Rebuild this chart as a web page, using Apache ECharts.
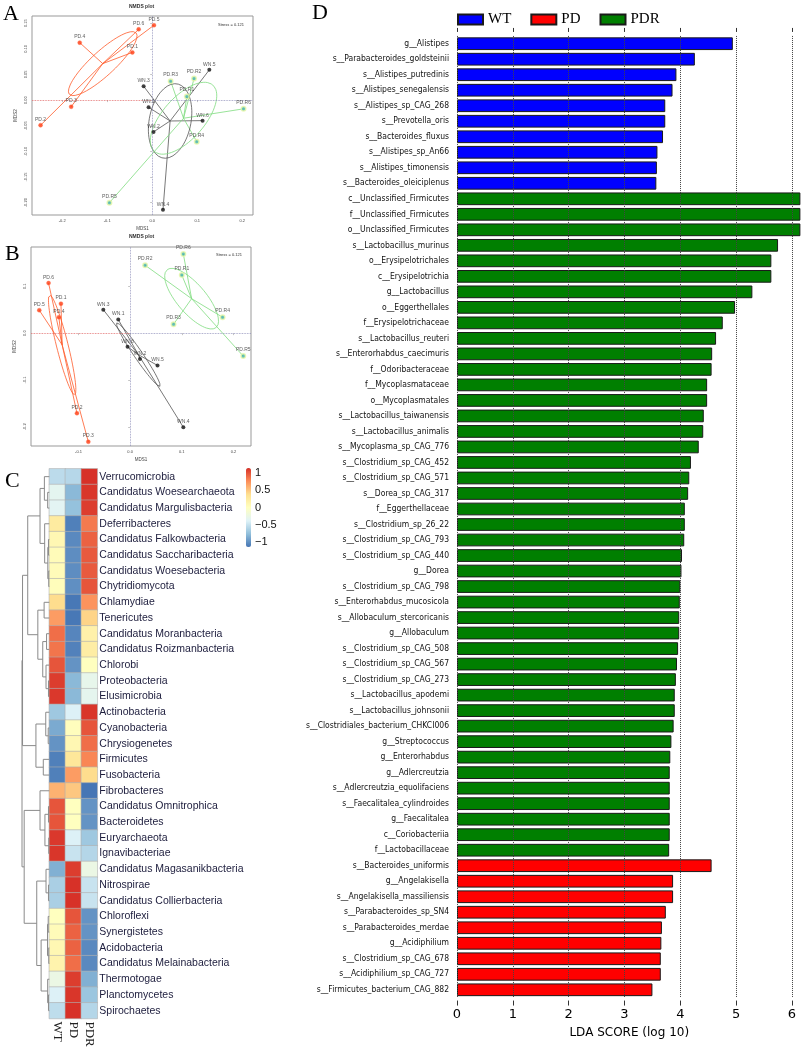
<!DOCTYPE html>
<html><head><meta charset="utf-8">
<script src="https://cdn.jsdelivr.net/npm/echarts@6/dist/echarts.min.js"></script>
<style>html,body{margin:0;padding:0;background:#fff}#c{width:803px;height:1048px}</style>
</head><body><div id="c"></div>
<script>
// ================= DATA =================
// Panel D : LEfSe LDA scores
const wtNames = ['g__Alistipes','s__Parabacteroides_goldsteinii','s__Alistipes_putredinis','s__Alistipes_senegalensis','s__Alistipes_sp_CAG_268','s__Prevotella_oris','s__Bacteroides_fluxus','s__Alistipes_sp_An66','s__Alistipes_timonensis','s__Bacteroides_oleiciplenus'];
const wtLDA = [4.94,4.26,3.93,3.86,3.73,3.73,3.69,3.59,3.58,3.57];
const pdrNames = ['c__Unclassified_Firmicutes','f__Unclassified_Firmicutes','o__Unclassified_Firmicutes','s__Lactobacillus_murinus','o__Erysipelotrichales','c__Erysipelotrichia','g__Lactobacillus','o__Eggerthellales','f__Erysipelotrichaceae','s__Lactobacillus_reuteri','s__Enterorhabdus_caecimuris','f__Odoribacteraceae','f__Mycoplasmataceae','o__Mycoplasmatales','s__Lactobacillus_taiwanensis','s__Lactobacillus_animalis','s__Mycoplasma_sp_CAG_776','s__Clostridium_sp_CAG_452','s__Clostridium_sp_CAG_571','s__Dorea_sp_CAG_317','f__Eggerthellaceae','s__Clostridium_sp_26_22','s__Clostridium_sp_CAG_793','s__Clostridium_sp_CAG_440','g__Dorea','s__Clostridium_sp_CAG_798','s__Enterorhabdus_mucosicola','s__Allobaculum_stercoricanis','g__Allobaculum','s__Clostridium_sp_CAG_508','s__Clostridium_sp_CAG_567','s__Clostridium_sp_CAG_273','s__Lactobacillus_apodemi','s__Lactobacillus_johnsonii','s__Clostridiales_bacterium_CHKCI006','g__Streptococcus','g__Enterorhabdus','g__Adlercreutzia','s__Adlercreutzia_equolifaciens','s__Faecalitalea_cylindroides','g__Faecalitalea','c__Coriobacteriia','f__Lactobacillaceae'];
const pdrLDA = [6.15,6.15,6.15,5.75,5.63,5.63,5.29,4.98,4.76,4.64,4.57,4.56,4.48,4.48,4.42,4.41,4.33,4.19,4.16,4.14,4.08,4.08,4.07,4.03,4.02,4.00,3.99,3.98,3.98,3.96,3.94,3.92,3.90,3.90,3.88,3.84,3.82,3.81,3.81,3.81,3.81,3.81,3.80];
const pdNames = ['s__Bacteroides_uniformis','g__Angelakisella','s__Angelakisella_massiliensis','s__Parabacteroides_sp_SN4','s__Parabacteroides_merdae','g__Acidiphilium','s__Clostridium_sp_CAG_678','s__Acidiphilium_sp_CAG_727','s__Firmicutes_bacterium_CAG_882'];
const pdLDA = [4.56,3.87,3.87,3.74,3.67,3.66,3.65,3.65,3.50];
const ldaTicks = [0,1,2,3,4,5,6];

// Panel C : heatmap (row z-scores)
const heatRows = ['Verrucomicrobia','Candidatus Woesearchaeota','Candidatus Margulisbacteria','Deferribacteres','Candidatus Falkowbacteria','Candidatus Saccharibacteria','Candidatus Woesebacteria','Chytridiomycota','Chlamydiae','Tenericutes','Candidatus Moranbacteria','Candidatus Roizmanbacteria','Chlorobi','Proteobacteria','Elusimicrobia','Actinobacteria','Cyanobacteria','Chrysiogenetes','Firmicutes','Fusobacteria','Fibrobacteres','Candidatus Omnitrophica','Bacteroidetes','Euryarchaeota','Ignavibacteriae','Candidatus Magasanikbacteria','Nitrospirae','Candidatus Collierbacteria','Chloroflexi','Synergistetes','Acidobacteria','Candidatus Melainabacteria','Thermotogae','Planctomycetes','Spirochaetes'];
const heatCols = ['WT','PD','PDR'];
const zWT  = [-0.56,-0.33,-0.35,0.25,0.10,0.05,0.05,0.03,0.40,0.70,0.90,0.87,1.00,1.10,1.12,-0.70,-0.88,-1.00,-1.10,-1.10,0.60,1.00,1.00,1.12,1.13,-0.85,-0.65,-0.65,0.00,0.05,0.10,0.15,-0.25,-0.40,-0.55];
const zPD  = [-0.59,-0.80,-0.75,-1.10,-1.05,-1.03,-1.03,-1.02,-1.14,-1.14,-1.07,-1.09,-1.00,-0.80,-0.80,-0.40,0.02,0.10,0.30,0.70,0.50,0.00,0.00,-0.40,-0.50,1.10,1.15,1.15,1.00,0.95,0.95,0.90,1.10,1.13,1.15];
const zPDR = [1.15,1.13,1.10,0.85,0.95,0.98,0.98,1.00,0.74,0.44,0.17,0.22,0.00,-0.30,-0.32,1.13,1.00,0.90,0.80,0.40,-1.15,-1.00,-1.00,-0.70,-0.60,-0.25,-0.50,-0.50,-1.00,-1.00,-1.05,-1.05,-0.85,-0.72,-0.60];
const heatLegendTicks = [-1,-0.5,0,0.5,1];
// row dendrogram, hclust style: negative = leaf (row index+1), positive = merge number; [a, b, height]
const dendroMerges = [
 [-2,-3,0.06],[-1,1,0.18],[-5,-6,0.03],[-7,-8,0.02],[3,4,0.055],[-4,5,0.17],[2,6,0.34],
 [-9,-10,0.19],[-11,-12,0.10],[-14,-15,0.03],[-13,10,0.12],[9,11,0.24],[8,12,0.42],[7,13,0.79],
 [-17,-18,0.04],[-16,15,0.13],[-19,-20,0.22],[16,17,0.49],[14,18,0.98],
 [-22,-23,0.03],[-24,-25,0.02],[20,21,0.16],[-21,22,0.34],
 [-27,-28,0.03],[-26,24,0.12],[-29,-30,0.04],[-31,-32,0.02],[26,27,0.065],[-34,-35,0.03],[-33,29,0.06],
 [28,30,0.30],[25,31,0.46],[23,32,0.92],[19,33,1.0]
];

// Panels A / B : NMDS coordinates [label, MDS1, MDS2]
const nmdsA_PD  = [['PD.1',-0.044,0.093],['PD.2',-0.248,-0.049],['PD.3',-0.180,-0.013],['PD.4',-0.161,0.112],['PD.5',0.004,0.146],['PD.6',-0.030,0.138]];
const nmdsA_WN  = [['WN.1',-0.008,-0.014],['WN.2',0.003,-0.062],['WN.3',-0.019,0.027],['WN.4',0.024,-0.214],['WN.5',0.127,0.059],['WN.6',0.112,-0.040]];
const nmdsA_PDR = [['PD.R1',0.077,0.007],['PD.R2',0.093,0.042],['PD.R3',0.041,0.037],['PD.R4',0.099,-0.081],['PD.R5',-0.095,-0.200],['PD.R6',0.203,-0.017]];
const nmdsB_PD  = [['PD.1',-0.134,0.063],['PD.2',-0.103,-0.171],['PD.3',-0.081,-0.232],['PD.4',-0.138,0.034],['PD.5',-0.176,0.049],['PD.6',-0.158,0.107]];
const nmdsB_WN  = [['WN.1',-0.023,0.029],['WN.2',0.019,-0.055],['WN.3',-0.052,0.050],['WN.4',0.103,-0.201],['WN.5',0.053,-0.069],['WN.6',-0.005,-0.029]];
const nmdsB_PDR = [['PD.R1',0.100,0.124],['PD.R2',0.029,0.145],['PD.R3',0.084,0.019],['PD.R4',0.179,0.034],['PD.R5',0.219,-0.049],['PD.R6',0.103,0.169]];
const nmdsA_xTicks = [-0.2,-0.1,0,0.1,0.2];
const nmdsA_yTicks = [-0.2,-0.15,-0.1,-0.05,0,0.05,0.1,0.15];
const nmdsB_xTicks = [-0.1,0,0.1,0.2];
const nmdsB_yTicks = [-0.2,-0.1,0,0.1];
const nmdsStress = 'Stress = 0.121';

// ================= BUILD =================
const chart = echarts.init(document.getElementById('c'), null, {width:803, height:1048});

// D
const ldaCats = wtNames.concat(pdrNames, pdNames);
const nW = wtNames.length, nR = pdrNames.length, nP = pdNames.length;
const pad = (arr, before, after) => Array(before).fill('-').concat(arr, Array(after).fill('-'));
const wtData = pad(wtLDA, 0, nR + nP);
const pdrData = pad(pdrLDA, nW, nP);
const pdData = pad(pdLDA, nW + nR, 0);
const ldaMax = 6.17;

// heatmap
const heatData = [];
heatRows.forEach((r, i) => { heatData.push([0, i, zWT[i]]); heatData.push([1, i, zPD[i]]); heatData.push([2, i, zPDR[i]]); });

// dendrogram segments
const nodeY = [], nodeH = [];
function nodePos(ref) { return ref < 0 ? [0, -ref - 1] : [nodeH[ref - 1], nodeY[ref - 1]]; }
const dendroLines = [];
dendroMerges.forEach((m, k) => {
  const a = nodePos(m[0]), b = nodePos(m[1]), h = m[2];
  nodeH[k] = h; nodeY[k] = (a[1] + b[1]) / 2;
  dendroLines.push({coords: [[a[0], a[1]], [h, a[1]], [h, b[1]], [b[0], b[1]]]});
});

// NMDS helpers
function centroid(pts) { let x = 0, y = 0; pts.forEach(p => { x += p[1]; y += p[2]; }); return [x / pts.length, y / pts.length]; }
function ellipse(pts, k) {
  const c = centroid(pts), n = pts.length;
  let sxx = 0, syy = 0, sxy = 0;
  pts.forEach(p => { const dx = p[1] - c[0], dy = p[2] - c[1]; sxx += dx * dx; syy += dy * dy; sxy += dx * dy; });
  sxx /= (n - 1); syy /= (n - 1); sxy /= (n - 1);
  const tr = sxx + syy, det = sxx * syy - sxy * sxy;
  const l1 = tr / 2 + Math.sqrt(tr * tr / 4 - det), l2 = tr / 2 - Math.sqrt(tr * tr / 4 - det);
  const th = 0.5 * Math.atan2(2 * sxy, sxx - syy);
  const out = [];
  for (let i = 0; i <= 72; i++) {
    const t = i / 72 * 2 * Math.PI;
    const u = k * Math.sqrt(l1) * Math.cos(t), v = k * Math.sqrt(Math.max(l2, 0)) * Math.sin(t);
    out.push([c[0] + u * Math.cos(th) - v * Math.sin(th), c[1] + u * Math.sin(th) + v * Math.cos(th)]);
  }
  return out;
}
function spiders(pts) { const c = centroid(pts); return pts.map(p => ({coords: [c, [p[1], p[2]]]})); }

const colPD = '#ff3a10', colPDR = '#3fb0a8';
const lineCols = {PD: '#ff5a2a', WN: '#555555', PDR: '#7fdc7f'};

function nmdsSeries(ax, pdPts, wnPts, pdrPts, xr, yr) {
  const ptLabel = {show: true, position: 'top', distance: 1, fontSize: 5, color: '#333', fontFamily: 'Liberation Sans', formatter: p => p.data[2]};
  const toData = pts => pts.map(p => [p[1], p[2], p[0]]);
  const s = [];
  const groups = [['PD', pdPts], ['WN', wnPts], ['PDR', pdrPts]];
  groups.forEach(g => {
    s.push({type: 'lines', coordinateSystem: 'cartesian2d', xAxisIndex: ax, yAxisIndex: ax - 1, silent: true, z: 3,
      lineStyle: {color: lineCols[g[0]], width: 0.8, opacity: 1}, data: spiders(g[1])});
    s.push({type: 'line', xAxisIndex: ax, yAxisIndex: ax - 1, showSymbol: false, silent: true, z: 3,
      lineStyle: {color: lineCols[g[0]], width: 0.8}, data: ellipse(g[1], 0.76)});
  });
  s.push({type: 'scatter', xAxisIndex: ax, yAxisIndex: ax - 1, symbolSize: 4, z: 5, itemStyle: {color: colPD, borderColor: '#ff6a40', borderWidth: 0.5},
    label: ptLabel, data: toData(pdPts),
    markLine: {silent: true, symbol: 'none', label: {show: false}, lineStyle: {type: 'dotted', width: 0.8},
      data: [
        [{coord: [xr[0], 0], lineStyle: {color: '#e06060'}}, {coord: [0, 0]}],
        [{coord: [0, 0], lineStyle: {color: '#8a8ab8'}}, {coord: [xr[1], 0]}],
        [{coord: [0, yr[0]], lineStyle: {color: '#8a8ab8'}}, {coord: [0, yr[1]]}]
      ]}});
  s.push({type: 'scatter', xAxisIndex: ax, yAxisIndex: ax - 1, symbolSize: 4, z: 5, itemStyle: {color: '#111'}, label: ptLabel, data: toData(wnPts)});
  s.push({type: 'scatter', xAxisIndex: ax, yAxisIndex: ax - 1, symbolSize: 4.5, z: 5, itemStyle: {color: colPDR, borderColor: '#e8f7a8', borderWidth: 1.5}, label: ptLabel, data: toData(pdrPts)});
  return s;
}

const nmdsAxisX = (grid, xr, ticks) => ({type: 'value', gridIndex: grid, min: xr[0], max: xr[1], name: 'MDS1', nameLocation: 'middle', nameGap: 11,
  nameTextStyle: {fontSize: 4.5, color: '#444'}, axisLine: {show: false}, splitLine: {show: false},
  axisTick: {show: true, length: 2, customValues: ticks, lineStyle: {color: '#888', width: 0.5}},
  axisLabel: {customValues: ticks, fontSize: 4, color: '#444', margin: 4, formatter: v => v.toFixed(1)}});
const nmdsAxisY = (grid, yr, ticks, dec) => ({type: 'value', gridIndex: grid, min: yr[0], max: yr[1], name: 'MDS2', nameLocation: 'middle', nameGap: 14,
  nameTextStyle: {fontSize: 4.5, color: '#444'}, axisLine: {show: false}, splitLine: {show: false},
  axisTick: {show: true, length: 2, customValues: ticks, lineStyle: {color: '#888', width: 0.5}},
  axisLabel: {customValues: ticks, fontSize: 4, color: '#444', margin: 4, rotate: 90, formatter: v => v.toFixed(dec)}});

const xrA = [-0.267, 0.224], yrA = [-0.224, 0.164];
const xrB = [-0.192, 0.234], yrB = [-0.241, 0.184];

const serif = 'Liberation Serif';
const txt = (x, y, t, size) => ({type: 'text', left: x, top: y, style: {text: t, fontSize: size, fontFamily: serif, fill: '#000'}});
const small = (x, y, t, size, bold) => ({type: 'text', left: x, top: y, style: {text: t, fontSize: size, fontWeight: bold ? 'bold' : 'normal', fill: '#333', fontFamily: 'Liberation Sans'}});

const option = {
  animation: false,
  backgroundColor: '#fff',
  grid: [
    {left: 457, top: 35.95, width: 344.5, height: 961.6, outerBoundsMode: 'none'},          // 0 D
    {left: 49.3, top: 468.8, width: 48, height: 549.7, outerBoundsMode: 'none'},            // 1 heatmap
    {left: 22, top: 468.8, width: 27.3, height: 549.7, outerBoundsMode: 'none'},            // 2 dendrogram
    {left: 246, top: 468, width: 5, height: 79, outerBoundsMode: 'none'},                   // 3 colour legend axis
    {left: 32, top: 16, width: 221, height: 199, show: true, borderColor: '#999', borderWidth: 1, outerBoundsMode: 'none'}, // 4 A
    {left: 31, top: 247, width: 220, height: 199, show: true, borderColor: '#999', borderWidth: 1, outerBoundsMode: 'none'}  // 5 B
  ],
  xAxis: [
    {type: 'value', gridIndex: 0, min: 0, max: ldaMax, interval: 1, offset: 3, z: 5,
      axisLine: {show: false}, axisTick: {show: true, length: 5, customValues: ldaTicks, lineStyle: {color: '#333'}},
      splitLine: {show: true, lineStyle: {type: 'dotted', color: '#444', width: 1}},
      axisLabel: {customValues: ldaTicks, fontSize: 13, fontFamily: 'DejaVu Sans', color: '#000', margin: 8},
      name: 'LDA SCORE (log 10)', nameLocation: 'middle', nameGap: 24, nameTextStyle: {fontSize: 12, fontFamily: 'DejaVu Sans', color: '#000'}},
    {type: 'value', gridIndex: 0, position: 'top', min: 0, max: ldaMax, offset: 4,
      axisLine: {show: false}, axisLabel: {show: false}, splitLine: {show: false},
      axisTick: {show: true, length: 4, customValues: ldaTicks, lineStyle: {color: '#333'}}},
    {type: 'category', gridIndex: 1, data: heatCols, position: 'bottom', axisLine: {show: false}, axisTick: {show: false},
      axisLabel: {interval: 0, hideOverlap: false, rotate: -90, fontSize: 13, fontFamily: serif, color: '#222', margin: 3}},
    {type: 'value', gridIndex: 2, min: 0, max: 1, inverse: true, show: false},
    {type: 'value', gridIndex: 3, show: false, min: 0, max: 1},
    nmdsAxisX(4, xrA, nmdsA_xTicks),
    nmdsAxisX(5, xrB, nmdsB_xTicks)
  ],
  yAxis: [
    {type: 'category', gridIndex: 0, data: ldaCats, inverse: true, axisLine: {show: false}, axisTick: {show: false},
      axisLabel: {interval: 0, fontSize: 8.5, fontFamily: 'DejaVu Sans Condensed, DejaVu Sans', color: '#111', margin: 8}},
    {type: 'category', gridIndex: 1, data: heatRows, inverse: true, position: 'right', axisLine: {show: false}, axisTick: {show: false},
      axisLabel: {interval: 0, fontSize: 10.5, fontFamily: 'Liberation Sans', color: '#1c1c3c', margin: 2}},
    {type: 'value', gridIndex: 2, min: -0.5, max: heatRows.length - 0.5, inverse: true, show: false},
    {type: 'value', gridIndex: 3, min: -1.155, max: 1.155, position: 'right', axisLine: {show: false}, axisTick: {show: false}, splitLine: {show: false},
      axisLabel: {customValues: heatLegendTicks, fontSize: 11, fontFamily: 'Liberation Sans', color: '#111', margin: 4,
        formatter: v => v < 0 ? '\u2212' + Math.abs(v) : String(v)}},
    nmdsAxisY(4, yrA, nmdsA_yTicks, 2),
    nmdsAxisY(5, yrB, nmdsB_yTicks, 1)
  ],
  legend: {left: 457, top: 12, itemWidth: 25, itemHeight: 10, itemGap: 19, icon: 'rect', padding: 0,
    textStyle: {fontFamily: serif, fontSize: 15, color: '#000'}, data: ['WT', 'PD', 'PDR']},
  visualMap: {type: 'continuous', seriesIndex: 3, min: -1.155, max: 1.155, calculable: false, orient: 'vertical',
    left: 246, top: 468, itemWidth: 5, itemHeight: 79, padding: 0, text: null, showLabel: false,
    inRange: {color: ['#4575B4', '#91BFDB', '#E0F3F8', '#FFFFBF', '#FEE090', '#FC8D59', '#D73027']}},
  graphic: [
    txt(3, 3, 'A', 22), txt(5, 243, 'B', 22), txt(5, 470, 'C', 22), txt(312, 2, 'D', 22),
    small(129, 4, 'NMDS plot', 5, true), small(129, 234, 'NMDS plot', 5, true),
    small(218, 23, nmdsStress, 4), small(216, 253, nmdsStress, 4)
  ],
  series: [
    {name: 'WT', type: 'bar', xAxisIndex: 0, yAxisIndex: 0, stack: 'lda', barWidth: '82%', data: wtData,
      itemStyle: {color: '#0000ff', borderColor: '#1a1a1a', borderWidth: 1}},
    {name: 'PD', type: 'bar', xAxisIndex: 0, yAxisIndex: 0, stack: 'lda', barWidth: '82%', data: pdData,
      itemStyle: {color: '#ff0000', borderColor: '#1a1a1a', borderWidth: 1}},
    {name: 'PDR', type: 'bar', xAxisIndex: 0, yAxisIndex: 0, stack: 'lda', barWidth: '82%', data: pdrData,
      itemStyle: {color: '#007f00', borderColor: '#1a1a1a', borderWidth: 1}},
    {type: 'heatmap', xAxisIndex: 2, yAxisIndex: 1, data: heatData, itemStyle: {borderColor: '#b0b0b0', borderWidth: 0.6}},
    {type: 'lines', coordinateSystem: 'cartesian2d', xAxisIndex: 3, yAxisIndex: 2, polyline: true, silent: true,
      lineStyle: {color: '#8a8a8a', width: 1, opacity: 1}, data: dendroLines},
    {type: 'scatter', xAxisIndex: 4, yAxisIndex: 3, data: [], silent: true}
  ].concat(nmdsSeries(5, nmdsA_PD, nmdsA_WN, nmdsA_PDR, xrA, yrA), nmdsSeries(6, nmdsB_PD, nmdsB_WN, nmdsB_PDR, xrB, yrB))
};
chart.setOption(option);
</script></body></html>
